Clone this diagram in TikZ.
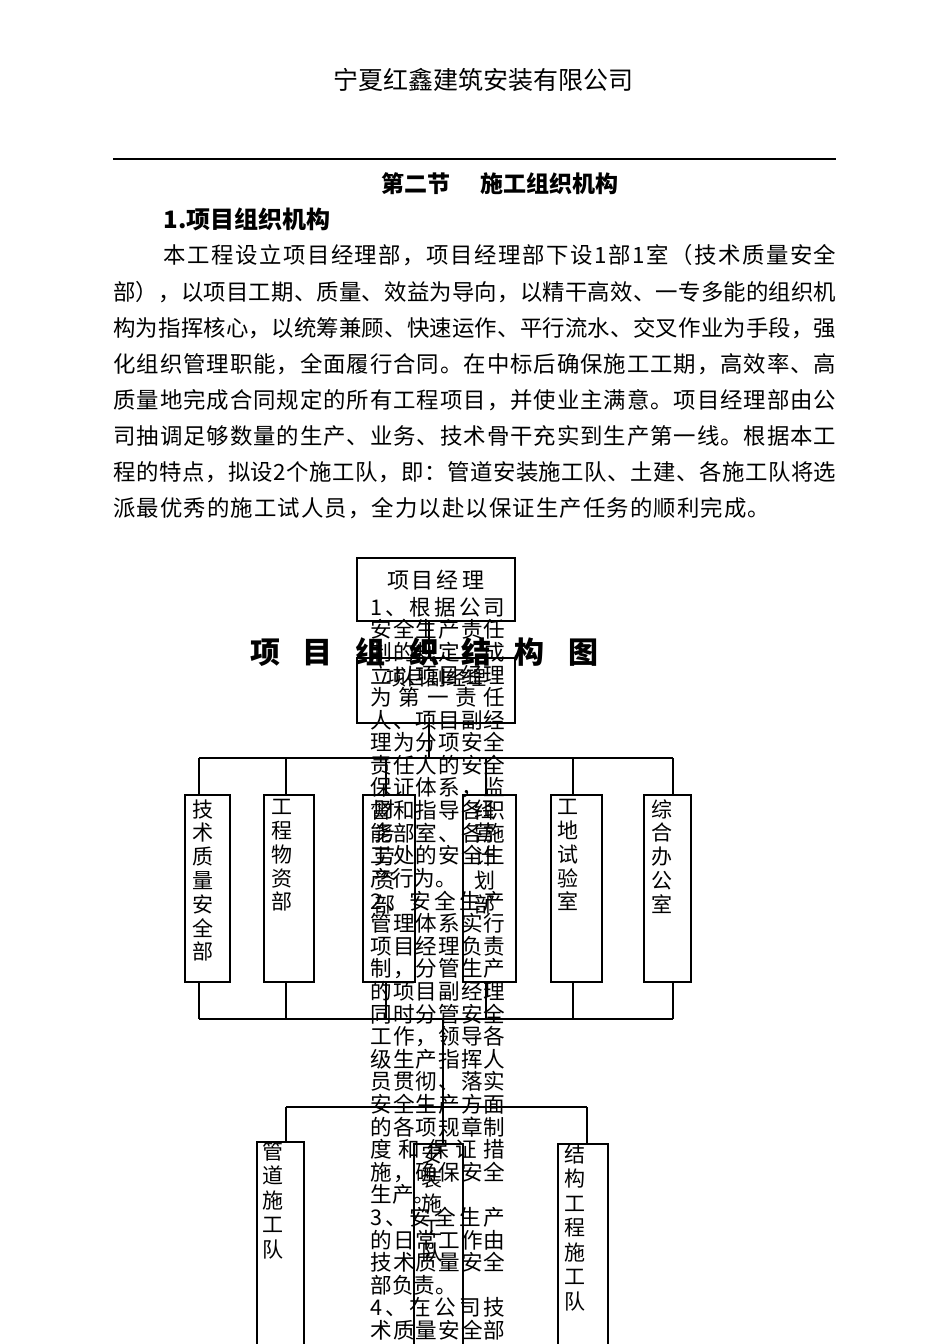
\documentclass[tikz,border=0pt]{standalone}
\usepackage{fontspec}
\setmainfont{Noto Sans CJK SC}
\usetikzlibrary{positioning}
% spread one line of text to a given width (glue between every character)
\def\spreadtext#1{#1\spreadrest}
\def\spreadrest#1{\ifx#1\relax\else\hskip0pt plus 1fil #1\expandafter\spreadrest\fi}
\newcommand{\jline}[2]{\makebox[#1][s]{\expandafter\spreadtext#2\relax}}

\begin{document}
\begin{tikzpicture}[
  x=0.5pt, y=-0.5pt,
  box/.style={draw, line width=0.7pt, inner sep=0pt},
  conn/.style={line width=1pt},
  body/.style={font=\fontsize{11.2pt}{13pt}\selectfont, inner sep=0pt, anchor=west},
  colline/.style={font=\fontsize{10.8pt}{11.3pt}\selectfont, inner sep=0pt, anchor=west},
  vtext/.style={font=\fontsize{10.5pt}{11.9pt}\selectfont, align=center, inner sep=0pt, anchor=north},
  vtextlow/.style={vtext, font=\fontsize{10.5pt}{12.25pt}\selectfont},
]
  \useasboundingbox (0,0) rectangle (950,1344);

  % page head
  \node[font=\fontsize{12.5pt}{14pt}\selectfont] (header) at (483,80) {宁夏红鑫建筑安装有限公司};
  \coordinate (ruleL) at (113,159);
  \coordinate (ruleR) at (836,159);
  \draw[line width=0.75pt] (ruleL) -- (ruleR);
  \node[font=\bfseries\fontsize{11.5pt}{14pt}\selectfont] (sec) at (500,184) {第二节\hspace{1.3em}施工组织机构};
  \node[anchor=west, inner sep=0pt, font=\bfseries\fontsize{12pt}{14pt}\selectfont] (sub) at (163,219) {1.项目组织机构};

  % paragraph
  \node[body] (p1) at (163,255) {\jline{336.5pt}{本工程设立项目经理部，项目经理部下设1部1室（技术质量安全}};
  \node[body] (p2) at (113,292) {\jline{361.5pt}{部），以项目工期、质量、效益为导向，以精干高效、一专多能的组织机}};
  \node[body] (p3) at (113,328) {\jline{361.5pt}{构为指挥核心，以统筹兼顾、快速运作、平行流水、交叉作业为手段，强}};
  \node[body] (p4) at (113,364) {\jline{361.5pt}{化组织管理职能，全面履行合同。在中标后确保施工工期，高效率、高}};
  \node[body] (p5) at (113,400) {\jline{361.5pt}{质量地完成合同规定的所有工程项目，并使业主满意。项目经理部由公}};
  \node[body] (p6) at (113,436) {\jline{361.5pt}{司抽调足够数量的生产、业务、技术骨干充实到生产第一线。根据本工}};
  \node[body] (p7) at (113,472) {\jline{361.5pt}{程的特点，拟设2个施工队，即：管道安装施工队、土建、各施工队将选}};
  \node[body] (p8) at (113,508) {\jline{328.5pt}{派最优秀的施工试人员，全力以赴以保证生产任务的顺利完成。}};

  % chart title
  \node[font=\bfseries\fontsize{15pt}{18pt}\selectfont] (title) at (424,652) {\jline{174pt}{项目组织结构图}};

  % top boxes
  \node[box, minimum width=79pt, minimum height=31.5pt] (pm) at (436,589.5) {};
  \node[font=\fontsize{11pt}{13pt}\selectfont, inner sep=0pt] (pmtext) at (435.5,580) {\jline{48.5pt}{项目经理}};
  \node[box, minimum width=79pt, minimum height=32.5pt] (vpm) at (436,690.5) {};
  \node[font=\fontsize{10pt}{12pt}\selectfont, inner sep=0pt] (vpmtext) at (436,678) {\jline{50pt}{项目副经理}};

  % departments
  \node[box, minimum width=22.5pt, minimum height=93.5pt] (d1) at (207.5,888.5) {};
  \node[box, minimum width=25pt, minimum height=93.5pt] (d2) at (289,888.5) {};
  \node[box, minimum width=26pt, minimum height=93.5pt] (d3) at (389,888.5) {};
  \node[box, minimum width=26.5pt, minimum height=93.5pt] (d4) at (489.5,888.5) {};
  \node[box, minimum width=25.5pt, minimum height=93.5pt] (d5) at (576.5,888.5) {};
  \node[box, minimum width=23.5pt, minimum height=93.5pt] (d6) at (667.5,888.5) {};
  \node[vtext] (d1t) at (203,799) {技\\术\\质\\量\\安\\全\\部};
  \node[vtext] (d2t) at (282,799) {工\\程\\物\\资\\部};
  \node[vtext] (d3t) at (385,799) {财\\务\\劳\\资\\部};
  \node[vtext] (d4t) at (485,799) {经\\营\\计\\划\\部};
  \node[vtext] (d5t) at (568,799) {工\\地\\试\\验\\室};
  \node[vtext] (d6t) at (662,799) {综\\合\\办\\公\\室};

  % teams
  \node[box, minimum width=23.5pt, minimum height=109pt] (t1) at (280.5,1251) {};
  \node[box, minimum width=24.5pt, minimum height=108pt] (t2) at (438.5,1252) {};
  \node[box, minimum width=25pt, minimum height=108pt] (t3) at (583,1252) {};
  \node[vtextlow] (t1t) at (273,1141) {管\\道\\施\\工\\队};
  \node[vtextlow] (t2t) at (432,1144) {安\\装\\施\\工\\队};
  \node[vtextlow] (t3t) at (575,1144) {结\\构\\工\\程\\施\\工\\队};

  % duty text running down through the chart
  \foreach \txt [count=\i] in {1、根据公司, 安全生产责任, 制的规定，成, 立以项目经理,
      为第一责任, 人、项目副经, 理为分项安全, 责任人的安全, 保证体系，监,
      督和指导各职, 能部室、各施, 工处的安全生, 产行为。\hfill, 2、安全生产,
      管理体系实行, 项目经理负责, 制，分管生产, 的项目副经理, 同时分管安全,
      工作，领导各, 级生产指挥人, 员贯彻、落实, 安全生产方面, 的各项规章制,
      度和保证措, 施，确保安全, 生产。\hfill, 3、安全生产, 的日常工作由,
      技术质量安全, 部负责。\hfill, 4、在公司技, 术质量安全部}
    \node[colline] (col\i) at (370,{607+(\i-1)*22.6}) {\jline{67.5pt}{\txt}};

  % connectors
  \coordinate (busT) at (429,758);
  \coordinate (busTL) at (199,758);
  \coordinate (busTR) at (673,758);
  \coordinate (busBL) at (199,1019);
  \coordinate (busBR) at (673,1019);
  \coordinate (busB) at (443,1019);
  \coordinate (busLL) at (286,1107);
  \coordinate (busLR) at (587,1107);
  \draw[conn] (429,0 |- pm.south) -- (429,0 |- vpm.north);
  \draw[conn] (429,0 |- vpm.south) -- (busT);
  \draw[conn] (busTL) -- (busTR);
  \draw[conn] (busBL) -- (busBR);
  \foreach \x/\d in {199/d1, 286/d2, 386/d3, 486/d4, 573/d5, 673/d6} {
    \draw[conn] (\x,758) -- (\x,0 |- \d.north);
    \draw[conn] (\x,0 |- \d.south) -- (\x,1019);
  }
  \draw[conn] (busB) -- (443,0 |- t2.north);
  \draw[conn] (busLL) -- (busLR);
  \draw[conn] (busLL) -- (286,0 |- t1.north);
  \draw[conn] (busLR) -- (587,0 |- t3.north);
\end{tikzpicture}
\end{document}
